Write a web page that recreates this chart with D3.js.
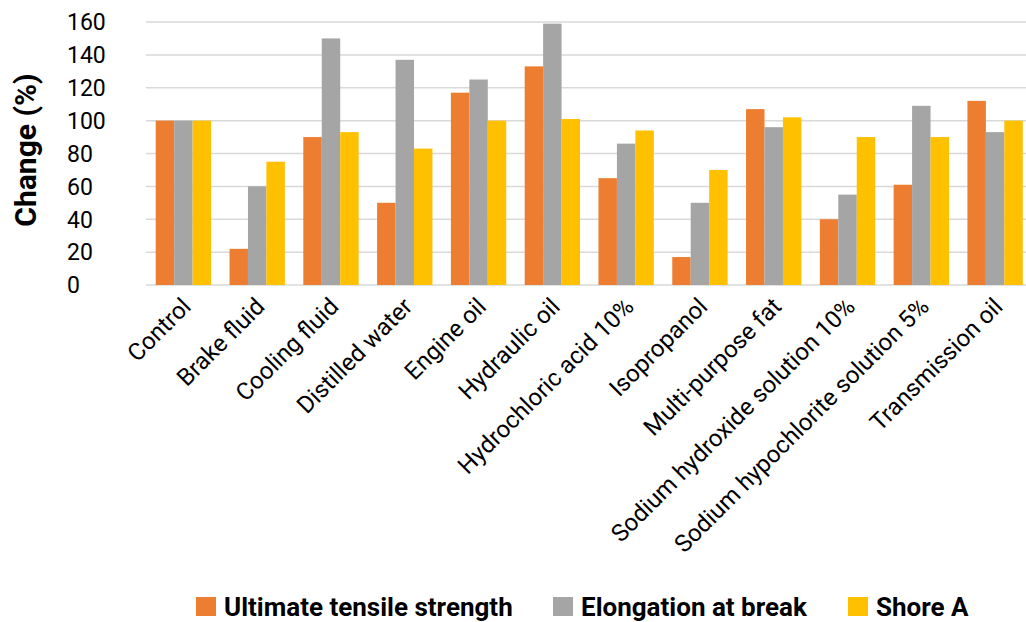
<!DOCTYPE html>
<html>
<head>
<meta charset="utf-8">
<script src="https://cdn.jsdelivr.net/npm/d3@7"></script>
<style>
  body { margin: 0; background: #fff; }
  svg { display: block; font-family: Roboto, sans-serif; }
</style>
</head>
<body>
<div id="chart"></div>
<script>
// categories and values
const categories = ['Control', 'Brake fluid', 'Cooling fluid', 'Distilled water', 'Engine oil', 'Hydraulic oil',
    'Hydrochloric acid 10%', 'Isopropanol', 'Multi-purpose fat', 'Sodium hydroxide solution 10%',
    'Sodium hypochlorite solution 5%', 'Transmission oil'];
const seriesNames = ['Ultimate tensile strength', 'Elongation at break', 'Shore A'];
const tensile = [100, 22, 90, 50, 117, 133, 65, 17, 107, 40, 61, 112];
const elongation = [100, 60, 150, 137, 125, 159, 86, 50, 96, 55, 109, 93];
const shore = [100, 75, 93, 83, 100, 101, 94, 70, 102, 90, 90, 100];
const yTicks = [0, 20, 40, 60, 80, 100, 120, 140, 160];

const colors = ['#ED7D31', '#A5A5A5', '#FFC000'];
const width = 1026;
const height = 622;

const svg = d3.select('#chart')
    .append('svg')
    .attr('width', width)
    .attr('height', height);

let x = d3.scaleBand()
    .domain(categories)
    .range([146.5, 1032])
    .paddingInner(0.25)
    .paddingOuter(0.125);

let xs = d3.scaleBand()
    .domain(seriesNames)
    .range([0, x.bandwidth()]);

let y = d3.scaleLinear()
    .domain([0, 160])
    .range([285, 22]);

// gridlines
svg.append('g')
    .selectAll('line')
    .data(yTicks)
    .enter()
    .append('line')
        .attr('x1', 146)
        .attr('x2', 1032)
        .attr('y1', d => y(d))
        .attr('y2', d => y(d))
        .attr('stroke', '#d9d9d9')
        .attr('stroke-width', 1.5);

// y tick labels
svg.append('g')
    .selectAll('text')
    .data(yTicks)
    .enter()
    .append('text')
        .text(d => d)
        .attr('x', 67)
        .attr('y', d => y(d))
        .attr('dy', '0.36em')
        .attr('font-size', 23)
        .attr('fill', '#000');

// y axis title
svg.append('text')
    .text('Change (%)')
    .attr('transform', `translate(36, 150) rotate(-90)`)
    .attr('text-anchor', 'middle')
    .attr('font-size', 30)
    .attr('font-weight', 'bold');

// bars
const allSeries = [tensile, elongation, shore];
allSeries.forEach((values, i) => {
    svg.append('g')
        .selectAll('rect')
        .data(values)
        .enter()
        .append('rect')
            .attr('x', (d, j) => x(categories[j]) + xs(seriesNames[i]))
            .attr('y', d => y(d))
            .attr('width', xs.bandwidth())
            .attr('height', d => y(0) - y(d))
            .attr('fill', colors[i]);
});

// x labels
svg.append('g')
    .selectAll('text')
    .data(categories)
    .enter()
    .append('text')
        .text(d => d)
        .attr('text-anchor', 'end')
        .attr('font-size', 24)
        .attr('transform', d => `translate(${x(d) + x.bandwidth() / 2 + 9}, 308) rotate(-45)`);

// legend
const legendX = [196, 553, 848];
seriesNames.forEach((name, i) => {
    svg.append('rect')
        .attr('x', legendX[i])
        .attr('y', 597)
        .attr('width', 20)
        .attr('height', 19)
        .attr('fill', colors[i]);
    svg.append('text')
        .text(name)
        .attr('x', legendX[i] + 28)
        .attr('y', 607)
        .attr('dy', '0.36em')
        .attr('font-size', 26)
        .attr('font-weight', 'bold');
});
</script>
</body>
</html>
